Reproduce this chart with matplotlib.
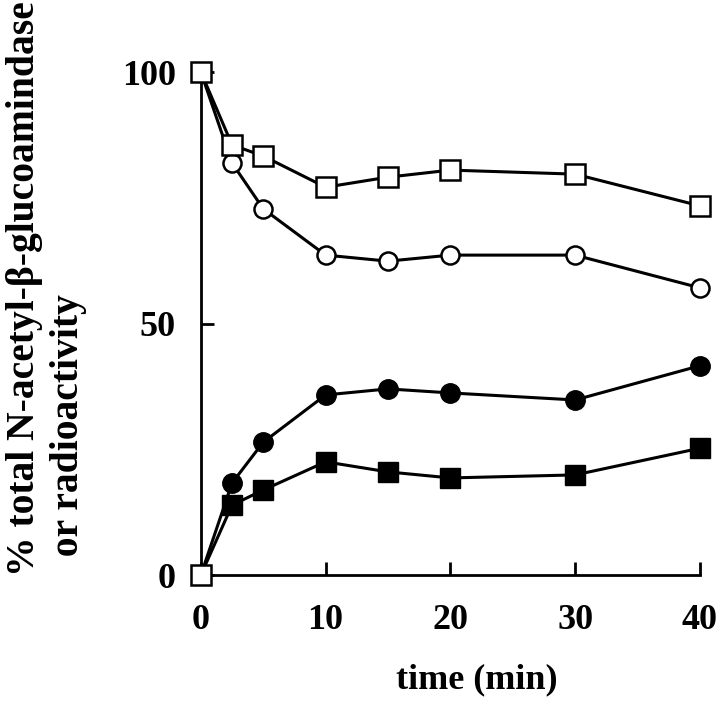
import matplotlib
matplotlib.use("Agg")
import matplotlib.pyplot as plt

# data
time = [0, 2.5, 5, 10, 15, 20, 30, 40]
open_sq = [100, 85.5, 83.3, 77.1, 79.1, 80.5, 79.7, 73.4]
open_circ = [100, 81.9, 72.8, 63.6, 62.4, 63.6, 63.6, 57.1]
fill_circ = [0, 18.3, 26.4, 35.8, 37.0, 36.2, 34.8, 41.6]
fill_sq = [0, 13.9, 16.9, 22.5, 20.5, 19.3, 19.9, 25.2]

x_ticks = [0, 10, 20, 30, 40]
y_ticks = [0, 50, 100]

plt.rcParams["font.family"] = ["Liberation Serif", "DejaVu Serif"]
plt.rcParams["font.weight"] = "bold"

fig = plt.figure(figsize=(7.2, 7.02), dpi=100)
ax = fig.add_axes([0.279, 0.1809, 0.693, 0.7165])

lw = 2.2
# filled series first, markers skip the shared (0,0) point
ax.plot(time, fill_sq, color="black", lw=lw, marker="s", ms=14.5,
        mfc="black", mec="black", mew=1, markevery=slice(1, None),
        clip_on=False, zorder=3)
ax.plot(time, fill_circ, color="black", lw=lw, marker="o", ms=14,
        mfc="black", mec="black", mew=1, markevery=slice(1, None),
        clip_on=False, zorder=3)
ax.plot(time, open_circ, color="black", lw=lw, marker="o", ms=13,
        mfc="white", mec="black", mew=1.8, markevery=slice(1, None),
        clip_on=False, zorder=4)
ax.plot(time, open_sq, color="black", lw=lw, marker="s", ms=14,
        mfc="white", mec="black", mew=1.8, clip_on=False, zorder=5)
# open square sitting on the origin
ax.plot(time[0], fill_sq[0], marker="s", ms=14, mfc="white",
        mec="black", mew=1.8, clip_on=False, zorder=6)

ax.set_xlim(0, 40)
ax.set_ylim(0, 100)
ax.set_xticks(x_ticks)
ax.set_yticks(y_ticks)
ax.spines["top"].set_visible(False)
ax.spines["right"].set_visible(False)
ax.spines["left"].set_linewidth(2)
ax.spines["bottom"].set_linewidth(2)
ax.tick_params(axis="both", direction="in", length=9.5, width=2,
               labelsize=26)
ax.tick_params(axis="x", pad=21)
ax.tick_params(axis="y", pad=18)
for lab in ax.get_xticklabels() + ax.get_yticklabels():
    lab.set_fontweight("bold")

ax.set_xlabel("time (min)", fontsize=26, fontweight="bold")
ax.xaxis.set_label_coords(0.554, -0.209)
ax.xaxis.label.set_va("center")

fig.text(0.064, 1 - 289 / 702, "% total N-acetyl-β-glucoamindase\n  or radioactivity",
         rotation=90, ha="center", va="center", multialignment="left",
         fontsize=28.5, fontweight="bold", linespacing=1.25)

fig.savefig("out.png", dpi=100)
